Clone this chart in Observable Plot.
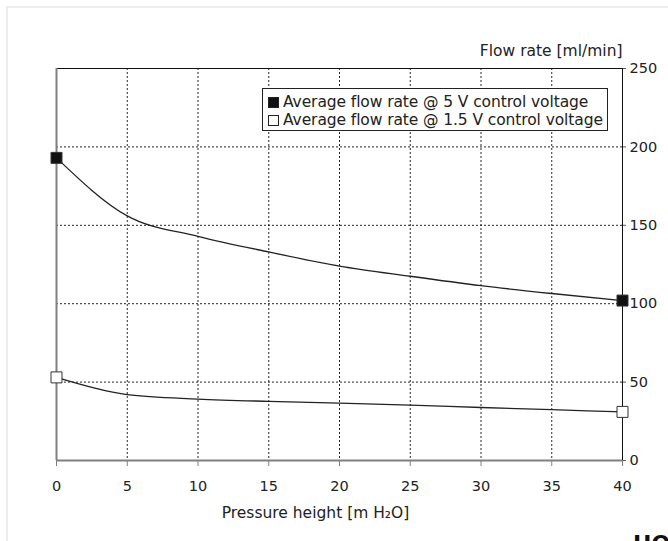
<!DOCTYPE html>
<html>
<head>
<meta charset="utf-8">
<script src="https://cdn.jsdelivr.net/npm/d3@7"></script>
<script src="https://cdn.jsdelivr.net/npm/@observablehq/plot@0.6"></script>
<style>
  html, body { margin: 0; padding: 0; background: #fff; }
  #wrap { position: relative; width: 668px; height: 541px; overflow: hidden; font-family: "DejaVu Sans", sans-serif; color: #222; }
  #frame { position: absolute; left: 6px; top: 6px; width: 700px; height: 600px; border-left: 2px solid #ececec; border-top: 2px solid #ececec; }
  #chart { position: absolute; left: 0; top: 0; }
  #legend { position: absolute; left: 262px; top: 88px; width: 346px; height: 43px; border: 1px solid #222; background: #fff; font-size: 15.5px; line-height: 18px; padding-top: 4px; box-sizing: border-box; letter-spacing: -0.1px; }
  #legend .row { display: flex; align-items: center; padding-left: 5px; white-space: nowrap; }
  #legend .sw { width: 11px; height: 11px; box-sizing: border-box; border: 1px solid #222; margin-right: 4px; }
  #logo { position: absolute; left: 633px; top: 531px; font-weight: bold; font-size: 22px; color: #111; font-family: "DejaVu Sans", sans-serif; }
</style>
</head>
<body>
<div id="wrap">
  <div id="frame"></div>
  <div id="chart"></div>
  <div id="legend"></div>
  <div id="logo">HO</div>
</div>
<script>
const pressure = [0, 5, 10, 15, 20, 25, 30, 35, 40];
const flow5V = [193, 156, 143, 133, 124, 117.5, 111.5, 106.5, 102];
const flow15V = [53, 42, 39.2, 37.7, 36.6, 35.3, 33.8, 32.4, 31];
const seriesNames = ["Average flow rate @ 5 V control voltage", "Average flow rate @ 1.5 V control voltage"];
const seriesFill = ["#111", "#fff"];
const xTicks = [0, 5, 10, 15, 20, 25, 30, 35, 40];
const yTicks = [0, 50, 100, 150, 200, 250];
const yLabel = "Flow rate [ml/min]";
const xLabel = "Pressure height [m H\u2082O]";

const data = [];
pressure.forEach((p, i) => {
  data.push({series: seriesNames[0], x: p, y: flow5V[i]});
  data.push({series: seriesNames[1], x: p, y: flow15V[i]});
});
const ends = data.filter(d => d.x === pressure[0] || d.x === pressure[pressure.length - 1]);

const chart = Plot.plot({
  width: 668,
  height: 541,
  marginLeft: 56,
  marginRight: 46,
  marginTop: 68,
  marginBottom: 81,
  style: {fontFamily: "'DejaVu Sans', sans-serif", fontSize: "14.5px", color: "#222", background: "transparent"},
  x: {domain: [0, 40], ticks: xTicks},
  y: {domain: [0, 250], ticks: yTicks},
  color: {domain: seriesNames, range: seriesFill},
  marks: [
    Plot.gridX(xTicks, {stroke: "#000", strokeOpacity: 0.85, strokeDasharray: "2,2"}),
    Plot.gridY(yTicks, {stroke: "#000", strokeOpacity: 0.85, strokeDasharray: "2,2"}),
    Plot.ruleY([250], {stroke: "#111", strokeWidth: 1}),
    Plot.ruleX([40], {stroke: "#111", strokeWidth: 1}),
    Plot.ruleX([0], {stroke: "#808080", strokeWidth: 2}),
    Plot.ruleY([0], {stroke: "#808080", strokeWidth: 2}),
    Plot.axisX({ticks: xTicks, tickSize: 6, tickPadding: 14, stroke: "#808080", label: null, fill: "#222", fontSize: 14.5}),
    Plot.axisY({anchor: "right", ticks: yTicks, tickSize: 3, tickPadding: 4, label: null, fill: "#222", stroke: "#555", fontSize: 14.5}),
    Plot.line(data, {x: "x", y: "y", z: "series", stroke: "#222", strokeWidth: 1.3, curve: "monotone-x"}),
    Plot.dot(ends, {x: "x", y: "y", symbol: "square", r: 6.2, fill: "series", stroke: "#333", strokeWidth: 1}),
    Plot.text([yLabel], {frameAnchor: "top-right", dy: -24, textAnchor: "end", fontSize: 15.5, fill: "#222"}),
    Plot.text([xLabel], {frameAnchor: "bottom", dx: -24, dy: 57, fontSize: 15.5, fill: "#222"})
  ]
});
document.getElementById("chart").appendChild(chart);

const legend = document.getElementById("legend");
seriesNames.forEach((name, i) => {
  const row = document.createElement("div");
  row.className = "row";
  const sw = document.createElement("div");
  sw.className = "sw";
  sw.style.background = seriesFill[i];
  const t = document.createElement("span");
  t.textContent = name;
  row.appendChild(sw);
  row.appendChild(t);
  legend.appendChild(row);
});
</script>
</body>
</html>
